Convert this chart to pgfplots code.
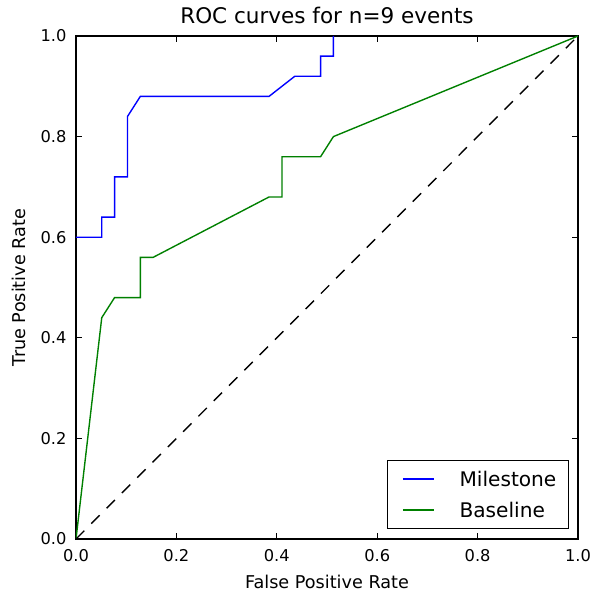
\documentclass[border=0pt]{standalone}
\usepackage{fontspec}
\setmainfont{DejaVu Sans}
\usepackage{pgfplots}
\pgfplotsset{compat=1.18}
\definecolor{mplblue}{rgb}{0,0,1}
\definecolor{mplgreen}{rgb}{0,0.5,0}
\newcommand{\legfont}{\fontsize{14.5}{17}\selectfont\rule[-2pt]{0pt}{14.2pt}}

\begin{document}
\begin{tikzpicture}
\path[use as bounding box] (-54.72pt,-42.48pt) rectangle (375.12pt,388.08pt);
\begin{axis}[
    at={(0pt,0pt)}, anchor=south west,
    scale only axis,
    width=361.44pt, height=362.16pt,
    xmin=0, xmax=1, ymin=0, ymax=1,
    xtick={0,0.2,0.4,0.6,0.8,1},
    ytick={0,0.2,0.4,0.6,0.8,1},
    tick align=inside, xtick pos=both, ytick pos=both,
    major tick length=4.5pt,
    tick style={black, line width=0.6pt},
    axis line style={line width=1pt},
    /pgf/number format/fixed,
    /pgf/number format/fixed zerofill,
    /pgf/number format/precision=1,
    /pgf/number format/assume math mode=true,
    ticklabel style={font=\fontsize{11.7}{14}\selectfont},
    xticklabel style={anchor=base, yshift=-16.3pt, inner sep=0pt},
    yticklabel style={anchor=east, inner sep=0pt, xshift=-6.7pt},
    title={ROC curves for n=9 events},
    title style={at={(axis description cs:0.5,1.0075)}, anchor=base, inner sep=0pt,
        font=\fontsize{15.5}{18}\selectfont},
    xlabel={False Positive Rate},
    xlabel style={at={(axis description cs:0.5,-0.098)}, anchor=base, inner sep=0pt,
        font=\fontsize{12.7}{15}\selectfont},
    ylabel={True Positive Rate},
    ylabel style={at={(axis description cs:-0.1015,0.5)}, anchor=base, inner sep=0pt,
        font=\fontsize{12.7}{15}\selectfont},
    legend image code/.code={
        \draw[#1, line width=1.1pt] (0pt,0pt) (4.2pt,0pt) -- (26.9pt,0pt);
    },
    legend style={
        at={(axis description cs:0.9807,0.0212)}, anchor=south east,
        draw=black,
        inner xsep=6.4pt, inner ysep=4.3pt, row sep=4.6pt,
        /tikz/every odd column/.append style={column sep=15.6pt},
    },
    legend cell align=left,
]

% Milestone
\addplot[color=mplblue, line width=1pt] coordinates {
    (0,0.60) (0.0513,0.60) (0.0513,0.64) (0.0769,0.64) (0.0769,0.72)
    (0.1026,0.72) (0.1026,0.84) (0.1282,0.88) (0.3846,0.88) (0.4359,0.92)
    (0.4872,0.92) (0.4872,0.96) (0.5128,0.96) (0.5128,1.00)
};
\addlegendentry{\legfont Milestone}

% Baseline
\addplot[color=mplgreen, line width=1pt] coordinates {
    (0,0) (0.0513,0.44) (0.0769,0.48) (0.1282,0.48) (0.1282,0.56)
    (0.1538,0.56) (0.3846,0.68) (0.4103,0.68) (0.4103,0.76) (0.4872,0.76)
    (0.5128,0.80) (1,1)
};
\addlegendentry{\legfont Baseline}

% chance line
\addplot[black, line width=1pt, dash pattern=on 8.5pt off 7.1pt, forget plot]
    coordinates {(0,0) (1,1)};
\end{axis}
\end{tikzpicture}
\end{document}
